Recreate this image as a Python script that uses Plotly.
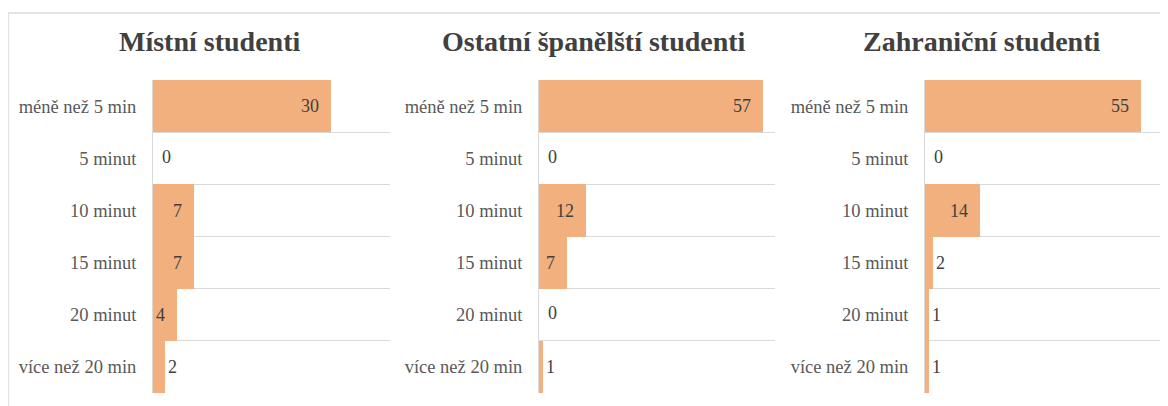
import plotly.graph_objects as go

categories = ["méně než 5 min", "5 minut", "10 minut", "15 minut", "20 minut", "více než 20 min"]
panel_titles = ["Místní studenti", "Ostatní španělští studenti", "Zahraniční studenti"]
local_students = [30, 0, 7, 7, 4, 2]
spanish_students = [57, 0, 12, 7, 0, 1]
foreign_students = [55, 0, 14, 2, 1, 1]
x_max = [40, 60, 60]

# the page body adds an 8px offset, so the figure is drawn 8px smaller
OFF = 8
W, H = 1168 - OFF, 406 - OFF
BAR = "#F1B07E"
GRID = "#D9D9D9"
TXT = "#404040"
SERIF = "Liberation Serif, Times New Roman, serif"
NB = "\u00a0"

# plot-area pixel extents (left, right) of the three panels, reference coords
panels_px = [(153, 390), (539, 775), (925, 1161)]
title_cx = [210, 594, 981]
top, bottom = 80 - OFF, 393 - OFF
plot_h = bottom - top

fig = go.Figure()
series = [local_students, spanish_students, foreign_students]
for i, vals in enumerate(series):
    sfx = "" if i == 0 else str(i + 1)
    fig.add_trace(go.Bar(
        x=vals, y=categories, orientation="h",
        marker=dict(color=BAR, line=dict(width=0)),
        text=[str(v) + NB * 2 if v else "" for v in vals],
        textposition="auto",
        insidetextanchor="end",
        insidetextfont=dict(family=SERIF, size=18, color=TXT),
        outsidetextfont=dict(family=SERIF, size=18, color=TXT),
        cliponaxis=False,
        xaxis="x" + sfx, yaxis="y" + sfx,
        showlegend=False, hoverinfo="x+y",
    ))
    # zero values get no bar text, so label them separately at the axis
    zeros = [c for c, v in zip(categories, vals) if v == 0]
    if zeros:
        fig.add_trace(go.Scatter(
            x=[0] * len(zeros), y=zeros, mode="text",
            text=[NB * 2 + "0"] * len(zeros), textposition="middle right",
            textfont=dict(family=SERIF, size=18, color=TXT),
            cliponaxis=False, xaxis="x" + sfx, yaxis="y" + sfx,
            showlegend=False, hoverinfo="skip",
        ))
    l, r = panels_px[i]
    fig.layout["xaxis" + sfx] = dict(
        domain=[(l - OFF) / W, (r - OFF) / W], range=[0, x_max[i]],
        showgrid=False, zeroline=False, showticklabels=False, showline=False,
        anchor="y" + sfx, fixedrange=True,
    )
    fig.layout["yaxis" + sfx] = dict(
        anchor="x" + sfx, autorange="reversed", type="category",
        tickson="boundaries", showgrid=True, gridcolor=GRID, gridwidth=1,
        showline=True, linecolor=GRID, linewidth=1,
        ticks="", ticklabelstandoff=12,
        tickfont=dict(family=SERIF, size=18.5, color="#595959"),
        fixedrange=True,
    )
    fig.add_annotation(
        text="<b>" + panel_titles[i] + "</b>",
        x=(title_cx[i] - OFF) / W, y=1 + (top - (42 - OFF)) / plot_h,
        xref="paper", yref="paper", showarrow=False,
        xanchor="center", yanchor="middle",
        font=dict(family=SERIF, size=28, color=TXT),
    )

# outer chart border
fig.add_shape(type="rect", xref="paper", yref="paper",
              x0=(7 - OFF) / W + 0.001, x1=1.05, y0=-0.2, y1=1 + (top - (13 - OFF)) / plot_h,
              line=dict(color="#E3E3E3", width=2), fillcolor="rgba(0,0,0,0)", layer="below")

fig.update_layout(
    width=W, height=H,
    margin=dict(l=0, r=0, t=top, b=H - bottom),
    paper_bgcolor="white", plot_bgcolor="white",
    bargap=0,
)

fig.write_html("out.html")
